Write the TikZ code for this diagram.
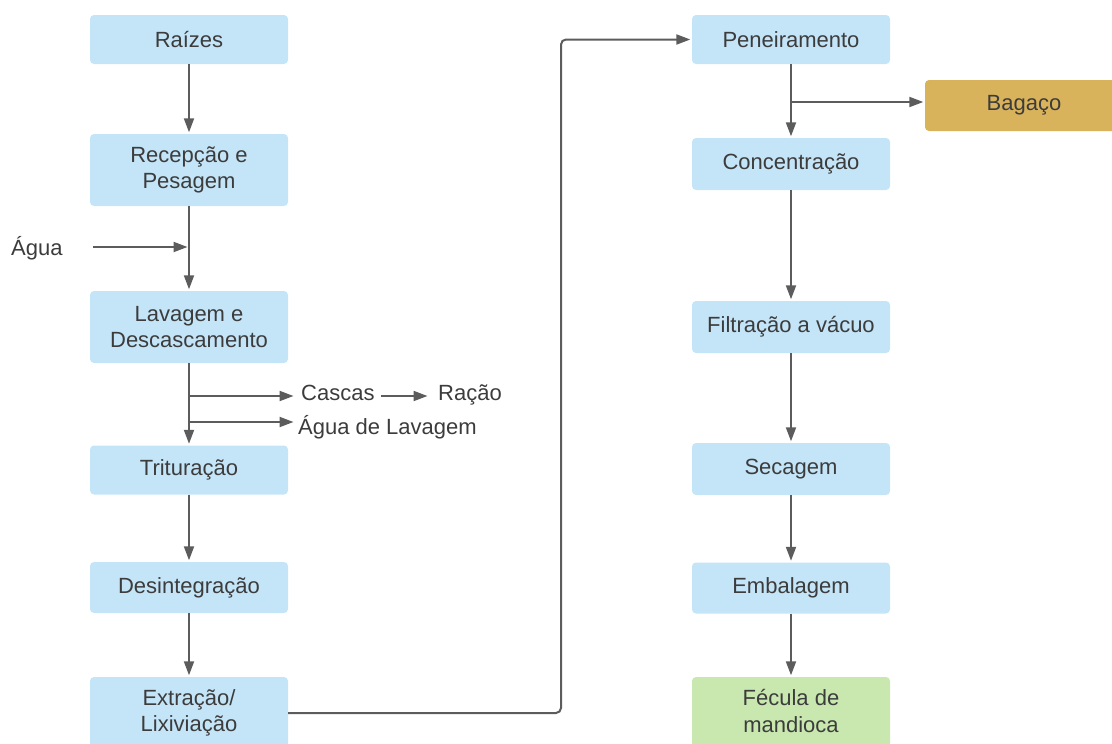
\documentclass[tikz,border=0pt]{standalone}
\usepackage{fontspec}
\setmainfont{Liberation Sans}
\usetikzlibrary{arrows.meta}
\definecolor{boxblue}{HTML}{C4E4F7}
\definecolor{boxgold}{HTML}{D9B35C}
\definecolor{boxgreen}{HTML}{C8E8AF}
\definecolor{txt}{HTML}{3C3C3C}
\definecolor{lin}{HTML}{5C5C5C}
\tikzset{
  proc/.style={fill=boxblue, rounded corners=4pt, minimum width=198pt, align=center, text=txt,
    font=\fontsize{22}{26.5}\selectfont, inner sep=0pt},
  lbl/.style={text=txt, font=\fontsize{22}{26.5}\selectfont, inner sep=0pt},
  arr/.style={draw=lin, line width=2pt, -{Triangle[length=14pt,width=10pt]}, shorten >=1.5pt},
}
\begin{document}
\begin{tikzpicture}[x=1pt,y=-1pt]
\useasboundingbox (0,0) rectangle (1112,744);
\clip (0,0) rectangle (1112,744);
% left column
\node[proc, minimum height=49pt] (rai) at (189,39.5) {Raízes};
\node[proc, minimum height=72pt] (rec) at (189,170) {Recepção e\\Pesagem};
\node[proc, minimum height=72pt] (lav) at (189,327) {Lavagem e\\Descascamento};
\node[proc, minimum height=49pt] (tri) at (189,470) {Trituração};
\node[proc, minimum height=51pt] (des) at (189,587.5) {Desintegração};
\node[proc, minimum height=72pt] (ext) at (189,713) {Extração/\\Lixiviação};
% right column
\node[proc, minimum height=49pt] (pen) at (791,39.5) {Peneiramento};
\node[proc, minimum height=52pt] (con) at (791,164) {Concentração};
\node[proc, minimum height=52pt] (fil) at (791,327) {Filtração a vácuo};
\node[proc, minimum height=52pt] (sec) at (791,469) {Secagem};
\node[proc, minimum height=51pt] (emb) at (791,588) {Embalagem};
\node[proc, fill=boxgreen, minimum height=72pt] (fec) at (791,713) {Fécula de\\mandioca\vphantom{ç}};
\node[proc, fill=boxgold, minimum height=51pt] (bag) at (1024,105.5) {Bagaço};
% labels
\node[lbl, anchor=base west] (agua) at (11,255) {Água};
\node[lbl, anchor=base west] (cas) at (301,400) {Cascas};
\node[lbl, anchor=base west] (rac) at (438,400) {Ração};
\node[lbl, anchor=base west] (agl) at (298,434) {Água de Lavagem};
% coordinates
\coordinate (ag1) at (93,247);
\coordinate (b1) at (189,396);
\coordinate (b2) at (189,422);
\coordinate (b3) at (791,102);
\coordinate (vx) at (561,0);
% connectors
\draw[arr] (rai) -- (rec);
\draw[arr] (rec) -- (lav);
\draw[arr] (lav) -- (tri);
\draw[arr] (tri) -- (des);
\draw[arr] (des) -- (ext);
\draw[arr] (ag1) -- (ag1 -| rec.south);
\draw[arr] (b1) -- ([xshift=-6pt]b1 -| cas.west);
\draw[arr] (b2) -- ([xshift=-3pt]b2 -| agl.west);
\draw[arr, shorten <=6pt] (b1 -| cas.east) -- ([xshift=-9pt]b1 -| rac.west);
\draw[arr, rounded corners=5pt] (ext.east) -| (vx |- pen.west) -- (pen.west);
\draw[arr] (pen) -- (con);
\draw[arr] (b3) -- (b3 -| bag.west);
\draw[arr] (con) -- (fil);
\draw[arr] (fil) -- (sec);
\draw[arr] (sec) -- (emb);
\draw[arr] (emb) -- (fec);
\end{tikzpicture}
\end{document}
